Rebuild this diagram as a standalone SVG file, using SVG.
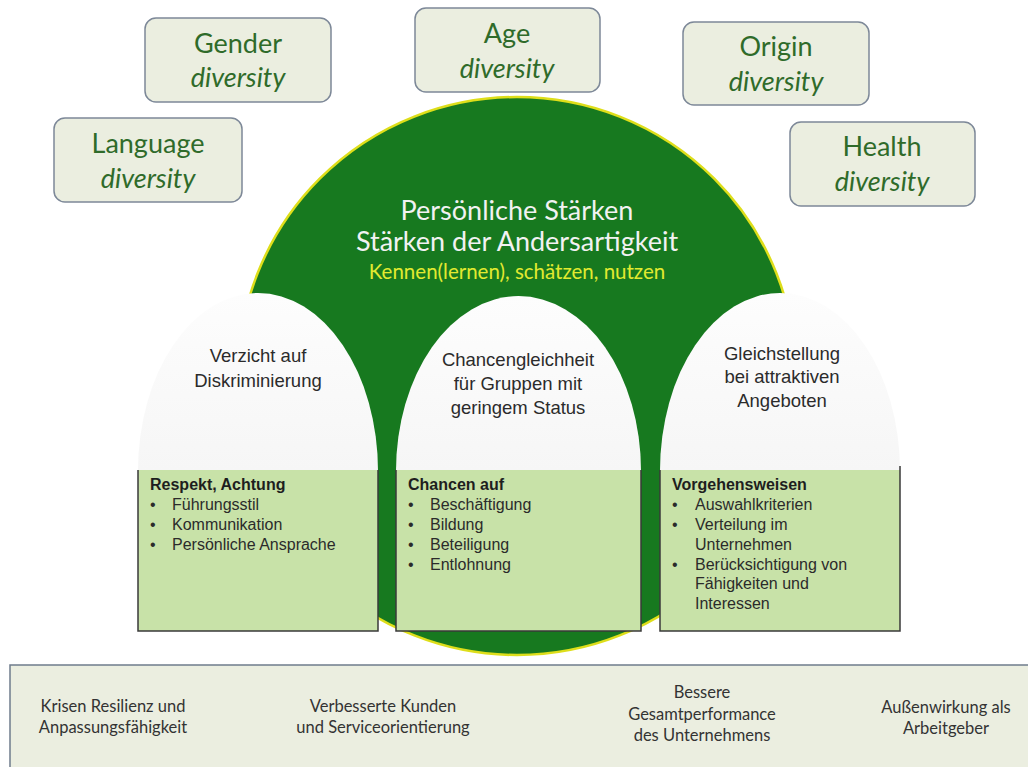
<svg xmlns="http://www.w3.org/2000/svg" width="1028" height="767" viewBox="0 0 1028 767">
<defs>
<style>
.dbox{fill:#ebeee0;stroke:#7d8898;stroke-width:1.5}
.dt{font-family:Lato,"Liberation Sans",sans-serif;font-size:27px;fill:#2f6b2a;text-anchor:middle}
.di{font-style:italic}
.arch{fill:url(#ag)}
.gbox{fill:#c8e2a8}
.gedge{fill:none;stroke:#3a3a3a;stroke-width:1.5}
.at{font-family:"Liberation Sans",Arial,sans-serif;font-size:18.5px;fill:#2b2b2b;text-anchor:middle}
.bt{font-family:"Liberation Sans",Arial,sans-serif;font-size:16px;fill:#2b2b2b}
.bh{font-weight:bold;fill:#1e1e1e}
.ft{font-family:Lato,"Liberation Sans",sans-serif;font-size:16.5px;fill:#333;text-anchor:middle}
</style>
<linearGradient id="ag" x1="0" y1="0" x2="0" y2="1">
<stop offset="0" stop-color="#fdfdfd"/>
<stop offset="1" stop-color="#f6f6f6"/>
</linearGradient>
</defs>
<rect width="1028" height="767" fill="#ffffff"/>

<g id="core">
<circle cx="517" cy="376" r="279" fill="#17791f" stroke="#dede1a" stroke-width="2.5"/>
<text x="517" y="220" text-anchor="middle" font-family="Lato,'Liberation Sans',sans-serif" font-size="27" fill="#f2f2f2">Persönliche Stärken</text>
<text x="517" y="251" text-anchor="middle" font-family="Lato,'Liberation Sans',sans-serif" font-size="27" fill="#f2f2f2">Stärken der Andersartigkeit</text>
<text x="517" y="279" text-anchor="middle" font-family="Lato,'Liberation Sans',sans-serif" font-size="20.5" fill="#e2ea30">Kennen(lernen), schätzen, nutzen</text>
</g>

<g id="gender">
<rect class="dbox" x="145" y="18" width="186" height="84" rx="11"/>
<text class="dt" x="238" y="53">Gender</text>
<text class="dt di" x="238" y="87">diversity</text>
</g>
<g id="language">
<rect class="dbox" x="54" y="118" width="188" height="84" rx="11"/>
<text class="dt" x="148" y="153">Language</text>
<text class="dt di" x="148" y="188">diversity</text>
</g>
<g id="age">
<rect class="dbox" x="415" y="8" width="185" height="84" rx="11"/>
<text class="dt" x="507" y="43">Age</text>
<text class="dt di" x="507" y="78">diversity</text>
</g>
<g id="origin">
<rect class="dbox" x="683" y="22" width="186" height="83" rx="11"/>
<text class="dt" x="776" y="56">Origin</text>
<text class="dt di" x="776" y="91">diversity</text>
</g>
<g id="health">
<rect class="dbox" x="790" y="122" width="185" height="84" rx="11"/>
<text class="dt" x="882" y="156">Health</text>
<text class="dt di" x="882" y="191">diversity</text>
</g>

<g id="pillar-left">
<path class="arch" d="M138,471 A120,178 0 0 1 378,471 Z"/>
<rect class="gbox" x="138" y="470" width="240" height="161"/>
<path class="gedge" d="M138,470 V631 H378 V470"/>
<text class="at" x="258" y="362">Verzicht auf</text>
<text class="at" x="258" y="387">Diskriminierung</text>
<text class="bt bh" x="150" y="490">Respekt, Achtung</text>
<text class="bt" x="150" y="510">•</text><text class="bt" x="172" y="510">Führungsstil</text>
<text class="bt" x="150" y="530">•</text><text class="bt" x="172" y="530">Kommunikation</text>
<text class="bt" x="150" y="550">•</text><text class="bt" x="172" y="550">Persönliche Ansprache</text>
</g>

<g id="pillar-middle">
<path class="arch" d="M396,471 A122.5,175 0 0 1 641,471 Z"/>
<rect class="gbox" x="396" y="470" width="245" height="161"/>
<path class="gedge" d="M396,470 V631 H641 V470"/>
<text class="at" x="518" y="366">Chancengleichheit</text>
<text class="at" x="518" y="390">für Gruppen mit</text>
<text class="at" x="518" y="414">geringem Status</text>
<text class="bt bh" x="408" y="490">Chancen auf</text>
<text class="bt" x="408" y="510">•</text><text class="bt" x="430" y="510">Beschäftigung</text>
<text class="bt" x="408" y="530">•</text><text class="bt" x="430" y="530">Bildung</text>
<text class="bt" x="408" y="550">•</text><text class="bt" x="430" y="550">Beteiligung</text>
<text class="bt" x="408" y="570">•</text><text class="bt" x="430" y="570">Entlohnung</text>
</g>

<g id="pillar-right">
<path class="arch" d="M660,471 A120,178 0 0 1 900,471 Z"/>
<rect class="gbox" x="660" y="470" width="240" height="161"/>
<path class="gedge" d="M660,470 V631 H900 V466"/>
<text class="at" x="782" y="360">Gleichstellung</text>
<text class="at" x="782" y="383">bei attraktiven</text>
<text class="at" x="782" y="407">Angeboten</text>
<text class="bt bh" x="672" y="490">Vorgehensweisen</text>
<text class="bt" x="672" y="510">•</text><text class="bt" x="695" y="510">Auswahlkriterien</text>
<text class="bt" x="672" y="530">•</text><text class="bt" x="695" y="530">Verteilung im</text>
<text class="bt" x="695" y="550">Unternehmen</text>
<text class="bt" x="672" y="570">•</text><text class="bt" x="695" y="570">Berücksichtigung von</text>
<text class="bt" x="695" y="589">Fähigkeiten und</text>
<text class="bt" x="695" y="609">Interessen</text>
</g>

<g id="outcomes">
<rect x="10" y="665" width="1030" height="120" fill="#ebeee0" stroke="#6f7c8c" stroke-width="1.5"/>
<text class="ft" x="113" y="712">Krisen Resilienz und</text>
<text class="ft" x="113" y="733">Anpassungsfähigkeit</text>
<text class="ft" x="383" y="712">Verbesserte Kunden</text>
<text class="ft" x="383" y="733">und Serviceorientierung</text>
<text class="ft" x="702" y="698">Bessere</text>
<text class="ft" x="702" y="720">Gesamtperformance</text>
<text class="ft" x="702" y="741">des Unternehmens</text>
<text class="ft" x="946" y="713">Außenwirkung als</text>
<text class="ft" x="946" y="734">Arbeitgeber</text>
</g>
<g id="connectors"></g>
</svg>
